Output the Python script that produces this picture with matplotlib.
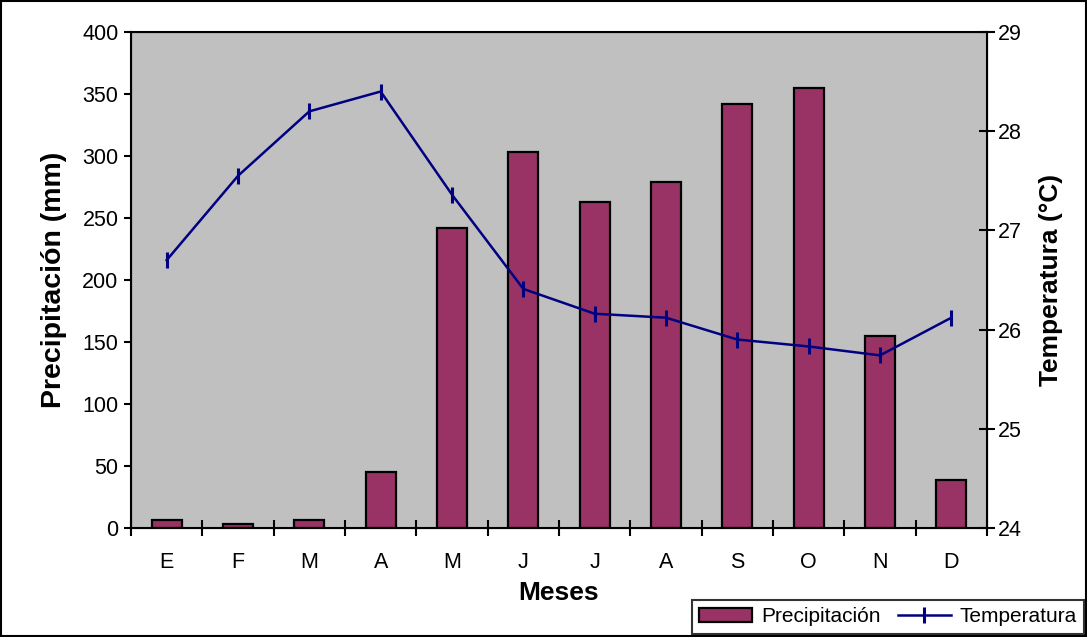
import numpy as np
import matplotlib.pyplot as plt
from matplotlib.patches import Rectangle

plt.rcParams['font.family'] = ['Liberation Sans', 'DejaVu Sans']

# data
meses = ['E', 'F', 'M', 'A', 'M', 'J', 'J', 'A', 'S', 'O', 'N', 'D']
precipitacion = [6.5, 3, 6.5, 45, 242, 303, 263, 279, 342, 355, 155, 39]
temperatura = [26.70, 27.55, 28.20, 28.40, 27.36, 26.41, 26.16, 26.12, 25.90, 25.83, 25.74, 26.12]

W, H = 1087, 637
fig = plt.figure(figsize=(W / 100, H / 100), dpi=100)
# plot area in pixels: x 131..987, y 32..528
ax = fig.add_axes([131 / W, 1 - 528 / H, (987 - 131) / W, (528 - 32) / H])
ax.set_facecolor('#C0C0C0')

x = np.arange(len(meses))
ax.bar(x, precipitacion, width=0.42, color='#993366', edgecolor='black',
       linewidth=1.6, label='Precipitación', zorder=2)
ax.set_xlim(-0.5, len(meses) - 0.5)
ax.set_ylim(0, 400)
ax.set_yticks(range(0, 401, 50))
ax.set_xticks(x)
ax.set_xticklabels(meses)
# ticks sit between the months
ax.set_xticks(np.arange(-0.5, len(meses), 1), minor=True)
ax.tick_params(axis='x', which='major', length=0, pad=17, labelsize=15.5)
ax.tick_params(axis='x', which='minor', direction='inout', length=12, width=1.5)
ax.tick_params(axis='y', length=5, width=1.5, labelsize=15.5, pad=4)
ax.set_xlabel('Meses', fontsize=19, fontweight='bold', labelpad=6)
ax.set_ylabel('Precipitación (mm)', fontsize=20.5, fontweight='bold', labelpad=11)
for s in ax.spines.values():
    s.set_linewidth(1.5)

ax2 = ax.twinx()
ax2.plot(x, temperatura, color='#000080', linewidth=1.8, marker='|',
         markersize=11, markeredgewidth=2.2, label='Temperatura', zorder=3)
ax2.set_ylim(24, 29)
ax2.set_yticks(range(24, 30))
ax2.tick_params(axis='y', direction='inout', length=12, width=1.5, labelsize=15.5, pad=2)
ax2.set_ylabel('Temperatura (°C)', fontsize=19, fontweight='bold', labelpad=12)

h1, l1 = ax.get_legend_handles_labels()
h2, l2 = ax2.get_legend_handles_labels()
leg = fig.legend(h1 + h2, l1 + l2, loc='upper left', bbox_to_anchor=(692 / W, 1 - 600 / H),
                 ncol=2, fontsize=15, frameon=True, fancybox=False, edgecolor='black',
                 borderpad=0.35, handlelength=2.55, handleheight=0.7, columnspacing=0.8,
                 handletextpad=0.43, borderaxespad=0)
leg.get_frame().set_linewidth(1.5)

# thin frame around the whole chart
fig.patches.append(Rectangle((0.001, 0.001), 0.998, 0.997, transform=fig.transFigure,
                             fill=False, edgecolor='black', linewidth=1.5))

fig.savefig('out.png', dpi=100)
